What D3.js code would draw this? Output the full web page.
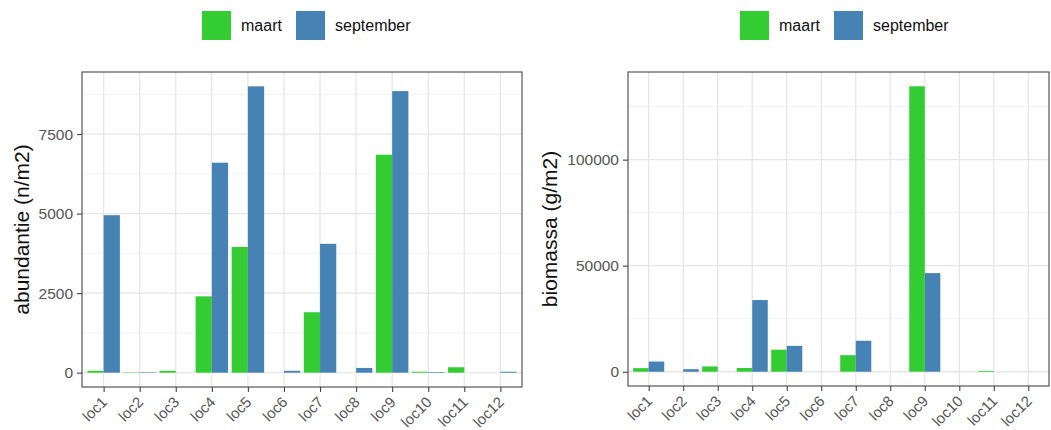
<!DOCTYPE html>
<html>
<head>
<meta charset="utf-8">
<script src="https://cdn.jsdelivr.net/npm/d3@7"></script>
<style>
  html, body { margin: 0; padding: 0; background: #fff; }
  svg { display: block; font-family: "Liberation Sans", Arial, sans-serif; }
</style>
</head>
<body>
<svg id="chart" width="1051" height="430"></svg>
<script>
// Sampling locations
const locations = ["loc1","loc2","loc3","loc4","loc5","loc6","loc7","loc8","loc9","loc10","loc11","loc12"];
const seasons = ["maart", "september"];
const seasonColors = ["#33CC33", "#4682B4"];

// Abundance (n/m2) per location
const abundanceMaart     = [60, 10, 60, 2400, 3950, 0, 1900, 0, 6850, 30, 170, 0];
const abundanceSeptember = [4950, 15, 0, 6600, 9000, 60, 4050, 150, 8850, 20, 0, 30];
const abundanceTicks = [0, 2500, 5000, 7500];
const abundanceMinor = [1250, 3750, 6250, 8750];

// Biomass (g/m2) per location
const biomassMaart     = [1700, 0, 2500, 1750, 10400, 0, 7800, 0, 134600, 0, 400, 0];
const biomassSeptember = [4800, 1200, 0, 33800, 12200, 0, 14600, 0, 46500, 0, 0, 0];
const biomassTicks = [0, 50000, 100000];
const biomassMinor = [25000, 75000, 125000];

const svg = d3.select("#chart");

function drawPanel(cfg) {
  const { x0, x1, y0, y1, series, ticks, minor, title, titleX, legendX } = cfg;
  const g = svg.append("g");

  const x = d3.scalePoint().domain(locations).range([x0, x1]).padding(0.6);
  const step = x.step();
  const maxVal = d3.max(series.flat());
  const y = d3.scaleLinear().domain([-0.05 * maxVal, 1.05 * maxVal]).range([y1, y0]);

  // grid
  const grid = g.append("g");
  grid.selectAll("line.minor").data(minor).join("line")
    .attr("x1", x0).attr("x2", x1)
    .attr("y1", d => y(d)).attr("y2", d => y(d))
    .attr("stroke", "#EDEDED").attr("stroke-width", 0.7);
  grid.selectAll("line.majorY").data(ticks).join("line")
    .attr("x1", x0).attr("x2", x1)
    .attr("y1", d => y(d)).attr("y2", d => y(d))
    .attr("stroke", "#E6E6E6").attr("stroke-width", 1.3);
  grid.selectAll("line.majorX").data(locations).join("line")
    .attr("x1", d => x(d)).attr("x2", d => x(d))
    .attr("y1", y0).attr("y2", y1)
    .attr("stroke", "#E6E6E6").attr("stroke-width", 1.3);

  // dodged bars
  const barW = step * 0.45;
  series.forEach((vals, si) => {
    g.append("g").selectAll("rect").data(vals).join("rect")
      .attr("x", (d, i) => x(locations[i]) - barW + si * barW)
      .attr("width", barW)
      .attr("y", d => y(Math.max(d, 0)))
      .attr("height", d => Math.abs(y(0) - y(d)))
      .attr("fill", seasonColors[si]);
  });

  // panel border
  g.append("rect")
    .attr("x", x0).attr("y", y0)
    .attr("width", x1 - x0).attr("height", y1 - y0)
    .attr("fill", "none").attr("stroke", "#555").attr("stroke-width", 1.2);

  // y axis
  const yAxis = g.append("g").attr("transform", `translate(${x0},0)`)
    .call(d3.axisLeft(y).tickValues(ticks).tickSize(5).tickPadding(4).tickFormat(d3.format("d")));
  yAxis.select(".domain").remove();
  yAxis.selectAll(".tick line").attr("stroke", "#444").attr("stroke-width", 1.1);
  yAxis.selectAll(".tick text")
    .attr("fill", "#555").style("font-size", "15.5px")
    .style("font-family", "'Liberation Sans', Arial, sans-serif");

  // x axis
  const xAxis = g.append("g").attr("transform", `translate(0,${y1})`)
    .call(d3.axisBottom(x).tickSize(5).tickPadding(0));
  xAxis.select(".domain").remove();
  xAxis.selectAll(".tick line").attr("stroke", "#444").attr("stroke-width", 1.1);
  xAxis.selectAll(".tick text")
    .attr("fill", "#555").style("font-size", "15px")
    .style("font-family", "'Liberation Sans', Arial, sans-serif")
    .attr("text-anchor", "end")
    .attr("y", 0).attr("dy", 0)
    .attr("transform", "translate(4,16) rotate(-45)");

  // y axis title
  svg.append("text")
    .attr("transform", `translate(${titleX},${(y0 + y1) / 2}) rotate(-90)`)
    .attr("text-anchor", "middle")
    .attr("dy", "0.35em")
    .style("font-size", "21px")
    .attr("fill", "#111")
    .text(title);

  // legend
  const key = 29;
  const lg = svg.append("g").attr("transform", `translate(${legendX},11)`);
  const offsets = [0, 94];
  seasons.forEach((s, i) => {
    lg.append("rect")
      .attr("x", offsets[i]).attr("y", 0)
      .attr("width", key).attr("height", key)
      .attr("fill", seasonColors[i]);
    lg.append("text")
      .attr("x", offsets[i] + key + 10).attr("y", key / 2)
      .attr("dy", "0.35em")
      .style("font-size", "16px")
      .attr("fill", "#111")
      .text(s);
  });
}

drawPanel({
  x0: 82, x1: 522, y0: 72, y1: 387,
  series: [abundanceMaart, abundanceSeptember],
  ticks: abundanceTicks, minor: abundanceMinor,
  title: "abundantie (n/m2)", titleX: 22, legendX: 202
});

drawPanel({
  x0: 628, x1: 1049, y0: 72, y1: 386,
  series: [biomassMaart, biomassSeptember],
  ticks: biomassTicks, minor: biomassMinor,
  title: "biomassa (g/m2)", titleX: 550, legendX: 740
});
</script>
</body>
</html>
